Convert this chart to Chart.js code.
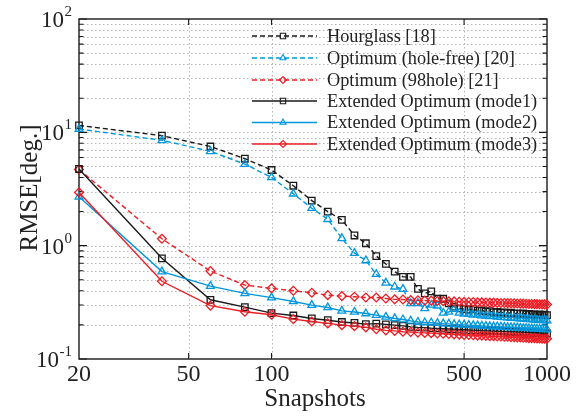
<!DOCTYPE html>
<html><head><meta charset="utf-8">
<script src="https://cdn.jsdelivr.net/npm/chart.js@4/dist/chart.umd.min.js"></script>
<style>html,body{margin:0;padding:0;background:#fff}#wrap{width:585px;height:416px}</style>
</head><body><div id="wrap"><canvas id="c" width="585" height="416"></canvas></div>
<script>
// ---------- data ----------
const snapshots = [20,40,60,80,100,120,140,160,180,200,220,240,260,280,300,320,340,360,380,400,
  420,440,460,480,500,520,540,560,580,600,620,640,660,680,700,720,740,760,780,800,
  820,840,860,880,900,920,940,960,980,1000];
const hourglass = [11.5,9.35,7.5,5.85,4.65,3.38,2.5,2.0,1.69,1.23,1.05,0.81,0.69,0.59,0.53,0.53,0.415,0.38,0.395,0.34,
  0.34,0.31,0.29,0.28,0.275,0.272,0.275,0.266,0.268,0.262,0.264,0.258,0.26,0.256,0.258,0.253,0.256,0.251,0.253,0.25,
  0.252,0.248,0.25,0.247,0.248,0.245,0.247,0.244,0.246,0.244];
const holeFree = [10.7,8.5,6.8,5.25,4.0,2.87,2.14,1.71,1.16,0.86,0.74,0.56,0.47,0.434,0.414,0.31,0.31,0.28,0.30,0.295,
  0.255,0.26,0.275,0.255,0.25,0.25,0.245,0.246,0.241,0.24,0.238,0.239,0.235,0.234,0.233,0.232,0.23,0.231,0.228,0.227,
  0.227,0.225,0.224,0.224,0.222,0.221,0.221,0.219,0.219,0.218];
const hole98 = [4.7,1.15,0.597,0.449,0.42,0.40,0.384,0.366,0.359,0.354,0.349,0.349,0.342,0.336,0.335,0.331,0.33,0.328,0.327,0.325,
  0.324,0.322,0.322,0.32,0.319,0.318,0.318,0.316,0.316,0.315,0.314,0.314,0.313,0.312,0.312,0.311,0.31,0.31,0.309,0.308,
  0.308,0.307,0.306,0.306,0.305,0.305,0.304,0.303,0.303,0.302];
const mode1 = [4.75,0.773,0.333,0.287,0.254,0.242,0.228,0.22,0.212,0.208,0.203,0.205,0.202,0.199,0.196,0.192,0.19,0.189,0.187,0.186,
  0.185,0.184,0.183,0.182,0.181,0.18,0.179,0.179,0.178,0.177,0.177,0.176,0.176,0.175,0.175,0.174,0.174,0.173,0.173,0.172,
  0.172,0.171,0.171,0.171,0.17,0.17,0.169,0.169,0.169,0.168];
const mode2 = [2.7,0.59,0.44,0.379,0.348,0.322,0.299,0.285,0.266,0.26,0.252,0.244,0.235,0.228,0.223,0.217,0.212,0.21,0.209,0.207,
  0.205,0.204,0.202,0.201,0.2,0.199,0.198,0.197,0.196,0.195,0.194,0.193,0.193,0.192,0.191,0.19,0.19,0.189,0.189,0.188,
  0.187,0.187,0.186,0.186,0.185,0.185,0.184,0.184,0.183,0.183];
const mode3 = [2.95,0.485,0.296,0.261,0.246,0.225,0.214,0.206,0.199,0.195,0.19,0.183,0.179,0.177,0.174,0.173,0.171,0.17,0.169,0.168,
  0.167,0.166,0.165,0.164,0.163,0.163,0.162,0.161,0.161,0.16,0.159,0.159,0.158,0.158,0.157,0.157,0.156,0.156,0.155,0.155,
  0.154,0.154,0.153,0.153,0.153,0.152,0.152,0.151,0.151,0.151];
const seriesLabels = ['Hourglass [18]','Optimum (hole-free) [20]','Optimum (98hole) [21]',
  'Extended Optimum (mode1)','Extended Optimum (mode2)','Extended Optimum (mode3)'];
const xTickValues = [20,50,100,500,1000];
const xTickLabels = ['20','50','100','500','1000'];
const yTickValues = [0.1,1,10,100];
const yTickExponents = ['-1','0','1','2'];
const yMinorValues = [0.2,0.3,0.4,0.5,0.6,0.7,0.8,0.9,2,3,4,5,6,7,8,9,20,30,40,50,60,70,80,90];
const xTitle = 'Snapshots';
const yTitle = 'RMSE[deg.]';

// ---------- style ----------
const SERIF = '"Liberation Serif","Times New Roman",serif';
const BLACK = '#1a1a1a', BLUE = 'rgb(0,150,220)', RED = 'rgb(236,30,36)';
const DASH = [5,3];
const seriesValues = [hourglass, holeFree, hole98, mode1, mode2, mode3];
const seriesStyle = [
  {c:BLACK, dash:DASH, p:'rect', r:4.6},
  {c:BLUE,  dash:DASH, p:'triangle', r:4.5},
  {c:RED,   dash:DASH, p:'rectRot', r:4.4},
  {c:BLACK, dash:[],   p:'rect', r:4.6},
  {c:BLUE,  dash:[],   p:'triangle', r:4.5},
  {c:RED,   dash:[],   p:'rectRot', r:4.4}
];

const datasets = seriesValues.map((vals, i) => ({
  label: seriesLabels[i],
  data: snapshots.map((x, j) => ({x, y: vals[j]})),
  borderColor: seriesStyle[i].c,
  borderWidth: 1.4,
  borderDash: seriesStyle[i].dash,
  pointStyle: seriesStyle[i].p,
  pointRadius: seriesStyle[i].r,
  pointBorderColor: seriesStyle[i].c,
  pointBackgroundColor: 'rgba(255,255,255,0)',
  pointBorderWidth: 1.3,
  tension: 0,
  fill: false,
  clip: false,
  order: 6 - i
}));

function marker(ctx, style, x, y, r) {
  ctx.beginPath();
  if (style === 'rect') {
    const s = Math.SQRT1_2 * r; ctx.rect(x - s, y - s, 2*s, 2*s);
  } else if (style === 'triangle') {
    for (let k = 0; k < 3; k++) {
      const a = k * 2 * Math.PI / 3;
      const px = x + Math.sin(a) * r, py = y - Math.cos(a) * r;
      k ? ctx.lineTo(px, py) : ctx.moveTo(px, py);
    }
    ctx.closePath();
  } else {
    ctx.moveTo(x - r, y); ctx.lineTo(x, y - r); ctx.lineTo(x + r, y); ctx.lineTo(x, y + r); ctx.closePath();
  }
  ctx.stroke();
}

const decor = {
  id: 'decor',
  beforeDatasetsDraw(chart) {
    const {ctx, chartArea: a, scales: {x, y}} = chart;
    ctx.save();
    // dotted grid
    ctx.strokeStyle = '#b4b4b4'; ctx.lineWidth = 1; ctx.setLineDash([1.5, 2.5]);
    [...yMinorValues, 1, 10].forEach(v => {
      const py = Math.round(y.getPixelForValue(v)) + 0.5;
      ctx.beginPath(); ctx.moveTo(a.left, py); ctx.lineTo(a.right, py); ctx.stroke();
    });
    xTickValues.slice(1, -1).forEach(v => {
      const px = Math.round(x.getPixelForValue(v)) + 0.5;
      ctx.beginPath(); ctx.moveTo(px, a.top); ctx.lineTo(px, a.bottom); ctx.stroke();
    });
    ctx.setLineDash([]);
    // frame
    ctx.strokeStyle = BLACK; ctx.lineWidth = 1.4;
    ctx.strokeRect(a.left, a.top, a.right - a.left, a.bottom - a.top);
    // inward tick marks
    ctx.lineWidth = 1.1;
    const yt = [...yTickValues.map(v => [v, 8]), ...yMinorValues.map(v => [v, 4.5])];
    yt.forEach(([v, L]) => {
      const py = y.getPixelForValue(v);
      ctx.beginPath();
      ctx.moveTo(a.left, py); ctx.lineTo(a.left + L, py);
      ctx.moveTo(a.right, py); ctx.lineTo(a.right - L, py);
      ctx.stroke();
    });
    xTickValues.slice(1, -1).forEach(v => {
      const px = x.getPixelForValue(v);
      ctx.beginPath();
      ctx.moveTo(px, a.bottom); ctx.lineTo(px, a.bottom - 6);
      ctx.moveTo(px, a.top); ctx.lineTo(px, a.top + 6);
      ctx.stroke();
    });
    ctx.restore();
  },
  afterDraw(chart) {
    const {ctx, chartArea: a, scales: {y}} = chart;
    ctx.save();
    ctx.fillStyle = '#222';
    // y tick labels 10^n
    yTickValues.forEach((v, i) => {
      const py = y.getPixelForValue(v);
      const right = 72;
      ctx.font = '15px ' + SERIF;
      const ew = ctx.measureText(yTickExponents[i]).width;
      ctx.textAlign = 'left'; ctx.textBaseline = 'alphabetic';
      ctx.fillText(yTickExponents[i], right - ew, py - 3);
      ctx.font = '23px ' + SERIF;
      ctx.textAlign = 'right';
      ctx.fillText('10', right - ew - 0.5, py + 8);
    });
    // axis titles
    ctx.font = '25px ' + SERIF;
    ctx.textAlign = 'center'; ctx.textBaseline = 'alphabetic';
    ctx.fillText(xTitle, 315, 406);
    ctx.save();
    ctx.translate(37, 188); ctx.rotate(-Math.PI / 2);
    ctx.font = '25px ' + SERIF;
    ctx.fillText(yTitle, 0, 0);
    ctx.restore();
    // legend
    const rowY = [36, 58, 80, 101, 122.5, 144];
    chart.data.datasets.forEach((ds, i) => {
      const ry = rowY[i];
      ctx.strokeStyle = ds.borderColor; ctx.lineWidth = 1.3;
      ctx.setLineDash(ds.borderDash);
      ctx.beginPath(); ctx.moveTo(252, ry); ctx.lineTo(317, ry); ctx.stroke();
      ctx.setLineDash([]);
      ctx.lineWidth = 1.1;
      marker(ctx, ds.pointStyle, 283, ry, ds.pointStyle === 'rect' ? 3.8 : 3.5);
      ctx.fillStyle = '#222';
      ctx.font = '18.3px ' + SERIF;
      ctx.textAlign = 'left'; ctx.textBaseline = 'middle';
      ctx.fillText(ds.label, 327, ry + 1);
    });
    ctx.restore();
  }
};

new Chart(document.getElementById('c'), {
  type: 'line',
  data: {datasets},
  options: {
    responsive: false,
    animation: false,
    devicePixelRatio: 1,
    layout: {padding: {left: 0, top: 19, right: 38, bottom: 0}},
    plugins: {legend: {display: false}, tooltip: {enabled: false}},
    scales: {
      x: {
        type: 'logarithmic', min: 20, max: 1000,
        afterBuildTicks: s => { s.ticks = xTickValues.map(v => ({value: v})); },
        afterFit: s => { s.height = 57; },
        grid: {display: false}, border: {display: false},
        ticks: {
          autoSkip: false, maxRotation: 0, padding: -7, color: '#222',
          font: {family: SERIF, size: 24},
          callback: v => { const k = xTickValues.indexOf(v); return k >= 0 ? xTickLabels[k] : ''; }
        }
      },
      y: {
        type: 'logarithmic', min: 0.1, max: 100,
        afterFit: s => { s.width = 79; },
        grid: {display: false}, border: {display: false},
        ticks: {display: false}
      }
    }
  },
  plugins: [decor]
});
</script></body></html>
